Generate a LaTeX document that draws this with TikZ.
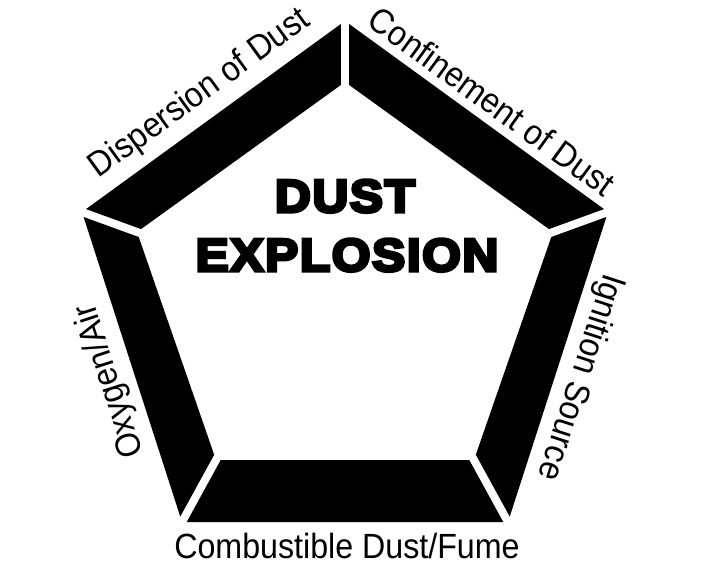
\documentclass[tikz,border=0pt]{standalone}
\usepackage{fontspec}
\usepackage{tikz}
\newfontfamily\titlefont[FakeStretch=1.08,FakeBold=7,LetterSpace=3.5]{Liberation Sans}
\newfontfamily\labelfont[FakeStretch=0.92]{Liberation Sans}
\tikzset{
  gapline/.style={white,line width=8pt,shorten >=-6pt,shorten <=-4pt},
  sidelabel/.style={inner sep=0pt,font=\labelfont\fontsize{35}{40}\selectfont},
  titletext/.style={inner sep=0pt,anchor=base,font=\titlefont\bfseries\fontsize{46}{50}\selectfont}
}
\begin{document}
\begin{tikzpicture}[x=1pt,y=-1pt]
    \useasboundingbox (0,0) rectangle (707,565);
        % outer corners
        \coordinate(O1) at (345,21);
        \coordinate(O2) at (608,212);
        \coordinate(O3) at (508,522);
        \coordinate(O4) at (182,522);
        \coordinate(O5) at (82,212);
        % inner corners
        \coordinate(I1) at (345,82);
        \coordinate(I2) at (553,232);
        \coordinate(I3) at (474,460);
        \coordinate(I4) at (216,460);
        \coordinate(I5) at (137,232);
        \fill[black,even odd rule](O1)--(O2)--(O3)--(O4)--(O5)--cycle
            (I1)--(I2)--(I3)--(I4)--(I5)--cycle;
        \draw[gapline](I1)--(O1);
        \draw[gapline](I2)--(O2);
        \draw[gapline](I3)--(O3);
        \draw[gapline](I4)--(O4);
        \draw[gapline](I5)--(O5);
        \node[titletext](dust) at (345,212) {DUST};
        \node[titletext](explosion) at (347,271) {EXPLOSION};
        \node[sidelabel,rotate=36](dispersion) at (200,94) {Dispersion of Dust};
        \node[sidelabel,rotate=-36](confinement) at (492,101) {Confinement of Dust};
        \node[sidelabel,rotate=-108](ignition) at (580,377) {Ignition Source};
        \node[sidelabel,rotate=108](oxygen) at (110,381) {Oxygen/Air};
        \node[sidelabel,anchor=base](combustible) at (347,558) {Combustible Dust/Fume};
    \end{tikzpicture}
\end{document}
